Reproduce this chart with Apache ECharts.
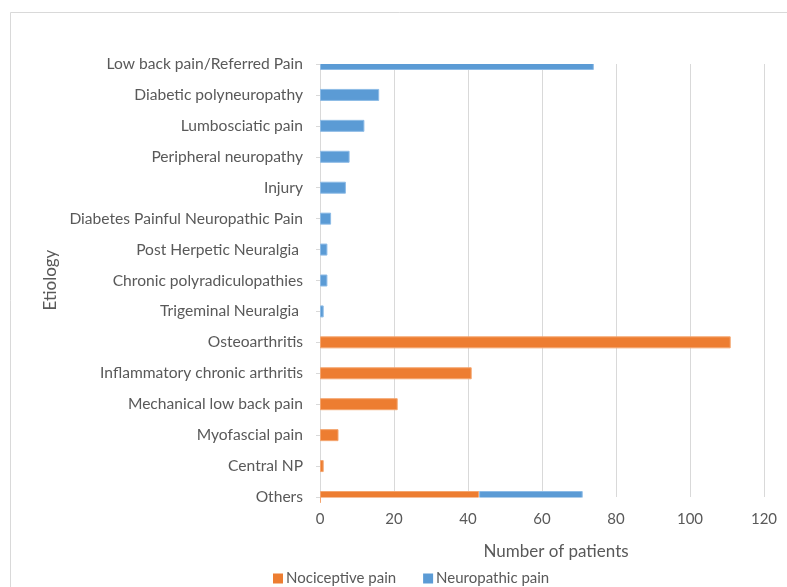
<!DOCTYPE html>
<html>
<head>
<meta charset="utf-8">
<script src="https://cdn.jsdelivr.net/npm/echarts@6/dist/echarts.min.js"></script>
<style>
html,body{margin:0;padding:0;background:#fff;}
#chart{width:787px;height:587px;}
</style>
</head>
<body>
<div id="chart"></div>
<script>
const categories = [
  'Low back pain/Referred Pain',
  'Diabetic polyneuropathy',
  'Lumbosciatic pain',
  'Peripheral neuropathy',
  'Injury',
  'Diabetes Painful Neuropathic Pain',
  'Post Herpetic Neuralgia ',
  'Chronic polyradiculopathies',
  'Trigeminal Neuralgia ',
  'Osteoarthritis',
  'Inflammatory chronic arthritis',
  'Mechanical low back pain',
  'Myofascial pain',
  'Central NP',
  'Others'
];
const nociceptive = [null, null, null, null, null, null, null, null, null, 111, 41, 21, 5, 1, 43];
const neuropathic = [74, 16, 12, 8, 7, 3, 2, 2, 1, null, null, null, null, null, 28];
const xTicks = [0, 20, 40, 60, 80, 100, 120];

const FONT = 'Lato';
const TXT = '#595959';
const G = { left: 320, right: 23, top: 64, bottom: 90 };
const W = 787, H = 587;
const chart = echarts.init(document.getElementById('chart'));
chart.setOption({
  animation: false,
  backgroundColor: '#fff',
  textStyle: { fontFamily: FONT },
  grid: { left: G.left, right: G.right, top: G.top, bottom: G.bottom, containLabel: false },
  xAxis: {
    type: 'value',
    min: xTicks[0],
    max: xTicks[xTicks.length - 1],
    interval: 20,
    axisLine: { show: false },
    axisTick: { show: false },
    splitLine: { show: true, lineStyle: { color: '#d9d9d9', width: 1 } },
    axisLabel: { color: TXT, fontSize: 15, fontFamily: FONT, margin: 15 }
  },
  yAxis: {
    type: 'category',
    data: categories,
    inverse: true,
    boundaryGap: false,
    axisLine: { show: true, lineStyle: { color: '#d9d9d9' } },
    axisTick: { show: true, length: 4, lineStyle: { color: '#d9d9d9' } },
    axisLabel: { color: TXT, fontSize: 15.6, fontFamily: FONT, margin: 17 },
    splitLine: { show: false }
  },
  legend: {
    top: 566,
    left: 268,
    icon: 'rect',
    itemWidth: 10,
    itemHeight: 10,
    itemGap: 27,
    itemStyle: { borderWidth: 0 },
    textStyle: { color: TXT, fontSize: 15, fontFamily: FONT, padding: [0, 0, 0, -2] },
    data: ['Nociceptive pain', 'Neuropathic pain']
  },
  graphic: [
    // white masks: bars on the first/last category sit on the plot edge and are cut there
    { type: 'rect', z: 100, silent: true, shape: { x: G.left - 0.5, y: G.top - 12, width: W - G.left, height: 12 }, style: { fill: '#fff' } },
    { type: 'rect', z: 100, silent: true, shape: { x: G.left + 1, y: H - G.bottom + 0.5, width: W - G.left, height: 8 }, style: { fill: '#fff' } },
    { type: 'rect', z: 101, shape: { x: 10.5, y: 12.5, width: 800, height: 600 }, style: { fill: 'none', stroke: '#d9d9d9', lineWidth: 1 }, silent: true },
    { type: 'text', z: 101, x: 51, y: 280, rotation: Math.PI / 2, style: { text: 'Etiology', fill: TXT, font: '17px ' + FONT, align: 'center', verticalAlign: 'middle' } },
    { type: 'text', z: 101, x: 556, y: 552, style: { text: 'Number of patients', fill: TXT, font: '17px ' + FONT, align: 'center', verticalAlign: 'middle' } }
  ],
  series: [
    {
      name: 'Nociceptive pain', type: 'bar', stack: 'total', barWidth: 12,
      itemStyle: { color: '#ED7D31', borderColor: '#F4A56E', borderWidth: 1 },
      data: nociceptive
    },
    {
      name: 'Neuropathic pain', type: 'bar', stack: 'total', barWidth: 12,
      itemStyle: { color: '#5B9BD5', borderColor: '#8DBBE6', borderWidth: 1 },
      data: neuropathic
    }
  ]
});
</script>
</body>
</html>
